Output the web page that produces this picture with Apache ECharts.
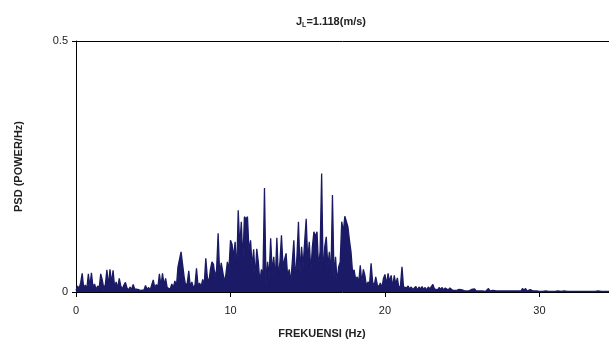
<!DOCTYPE html>
<html><head><meta charset="utf-8">
<script src="https://cdn.jsdelivr.net/npm/echarts@6/dist/echarts.min.js"></script>
<style>html,body{margin:0;padding:0;background:#fff}#c{width:609px;height:356px}</style>
</head><body><div id="c"></div>
<script>
// Tick labels
const xTicks = [0, 10, 20, 30];
const yTicks = [0, 0.5];
// Frequency grid of the spectrum (Hz)
const freqStart = 0;
const freqStep = 0.1;
// PSD values, one per 0.1 Hz, 0.0 .. 35.0 Hz
const psd = [
0.003,0.012,0.007,0.018,0.037,0.008,0.014,0.006,0.036,0.011,
0.038,0.009,0.016,0.005,0.012,0.008,0.036,0.024,0.007,0.015,
0.044,0.012,0.045,0.018,0.043,0.010,0.020,0.008,0.027,0.012,
0.006,0.014,0.019,0.008,0.004,0.010,0.005,0.015,0.006,0.003,
0.005,0.008,0.003,0.006,0.004,0.013,0.005,0.009,0.004,0.007,
0.024,0.008,0.015,0.010,0.036,0.012,0.037,0.014,0.027,0.009,
0.012,0.006,0.016,0.009,0.022,0.011,0.050,0.065,0.080,0.055,
0.030,0.012,0.018,0.042,0.010,0.020,0.008,0.014,0.047,0.012,
0.018,0.010,0.025,0.015,0.067,0.030,0.018,0.045,0.060,0.055,
0.030,0.045,0.117,0.035,0.058,0.040,0.020,0.035,0.060,0.045,
0.103,0.095,0.070,0.100,0.040,0.163,0.090,0.140,0.060,0.150,
0.145,0.150,0.080,0.103,0.050,0.085,0.030,0.086,0.060,0.020,
0.045,0.030,0.207,0.015,0.060,0.030,0.107,0.040,0.070,0.025,
0.108,0.030,0.060,0.113,0.050,0.065,0.077,0.030,0.045,0.020,
0.060,0.103,0.025,0.070,0.140,0.040,0.090,0.050,0.100,0.146,
0.060,0.100,0.040,0.090,0.120,0.110,0.120,0.050,0.080,0.236,
0.030,0.090,0.110,0.050,0.080,0.030,0.193,0.030,0.070,0.020,
0.050,0.060,0.140,0.120,0.151,0.150,0.130,0.103,0.080,0.040,
0.044,0.025,0.030,0.020,0.053,0.018,0.045,0.033,0.012,0.020,
0.015,0.057,0.020,0.012,0.030,0.015,0.010,0.018,0.008,0.027,
0.035,0.015,0.037,0.020,0.033,0.010,0.033,0.015,0.028,0.008,
0.012,0.050,0.010,0.013,0.008,0.012,0.006,0.010,0.005,0.008,
0.011,0.004,0.010,0.006,0.011,0.005,0.009,0.004,0.010,0.006,
0.008,0.015,0.006,0.009,0.004,0.009,0.005,0.009,0.004,0.008,
0.009,0.004,0.008,0.009,0.003,0.002,0.003,0.005,0.005,0.002,
0.004,0.005,0.002,0.003,0.002,0.004,0.005,0.007,0.006,0.002,
0.003,0.002,0.001,0.002,0.002,0.001,0.004,0.007,0.002,0.001,
0.003,0.006,0.002,0.001,0.002,0.001,0.002,0.001,0.002,0.001,
0.002,0.001,0.002,0.001,0.002,0.001,0.002,0.003,0.002,0.007,
0.003,0.007,0.002,0.003,0.005,0.008,0.002,0.001,0.002,0.001,
0.001,0.002,0.001,0.001,0.002,0.001,0.001,0.002,0.001,0.001,
0.001,0.001,0.002,0.001,0.001,0.001,0.002,0.001,0.001,0.001,
0.001,0.001,0.001,0.002,0.001,0.001,0.001,0.001,0.001,0.001,
0.001,0.002,0.001,0.001,0.001,0.001,0.001,0.001,0.002,0.001,
0.001,0.001,0.001,0.001,0.001,0.002,0.001,0.001,0.001,0.001,
0.001
];
const titleMain = 'J';
const titleSub = 'L';
const titleRest = '=1.118(m/s)';
const xName = 'FREKUENSI (Hz)';
const yName = 'PSD (POWER/Hz)';

const data = psd.map((v, i) => [+(freqStart + i * freqStep).toFixed(2), v]);
const FONT = 'Liberation Sans, Arial, sans-serif';
const XMAX = 34.5;
const chart = echarts.init(document.getElementById('c'), null, {renderer: 'canvas'});
chart.setOption({
  animation: false,
  backgroundColor: '#fff',
  grid: {left: 76, top: 41, width: 533, height: 251, show: false},
  xAxis: [{
    type: 'value', min: 0, max: XMAX, interval: 10,
    axisLine: {show: true, lineStyle: {color: '#000', width: 1}},
    axisTick: {show: true, length: 5, lineStyle: {color: '#000'}},
    axisLabel: {margin: 13, fontSize: 11, color: '#222', fontFamily: FONT, showMaxLabel: false,
      formatter: v => xTicks.includes(v) ? String(v) : ''},
    splitLine: {show: false}
  }, {
    type: 'value', position: 'top', min: 0, max: XMAX,
    axisLine: {show: true, lineStyle: {color: '#000', width: 1}},
    axisTick: {show: false}, axisLabel: {show: false}, splitLine: {show: false}
  }],
  yAxis: {
    type: 'value', min: 0, max: 0.5, interval: 0.5,
    axisLine: {show: true, lineStyle: {color: '#000', width: 1}},
    axisTick: {show: true, length: 4, lineStyle: {color: '#000'}},
    axisLabel: {margin: 8, fontSize: 11, color: '#222', fontFamily: FONT,
      formatter: v => yTicks.includes(v) ? String(v) : ''},
    splitLine: {show: false},
    name: yName, nameLocation: 'middle', nameGap: 52,
    nameTextStyle: {fontSize: 11, fontWeight: 'bold', color: '#222', fontFamily: FONT}
  },
  graphic: [
    {type: 'text', x: 331, y: 22, style: {
      text: '{m|' + titleMain + '}{s|' + titleSub + '}{m|' + titleRest + '}',
      align: 'center', verticalAlign: 'middle',
      rich: {
        m: {fontSize: 11, fontWeight: 'bold', fontFamily: FONT, fill: '#222'},
        s: {fontSize: 7, fontWeight: 'bold', fontFamily: FONT, fill: '#222', padding: [6, 0, 0, 0]}
      }}},
    {type: 'text', x: 322, y: 334, style: {
      text: xName, align: 'center', verticalAlign: 'middle',
      font: 'bold 11px ' + FONT, fill: '#222'}}
  ],
  series: [{
    type: 'line', data: data, showSymbol: false, symbol: 'none',
    lineStyle: {color: '#1a1a66', width: 1.3},
    areaStyle: {color: '#1a1a66', opacity: 1},
    clip: true
  }]
});
</script>
</body></html>
